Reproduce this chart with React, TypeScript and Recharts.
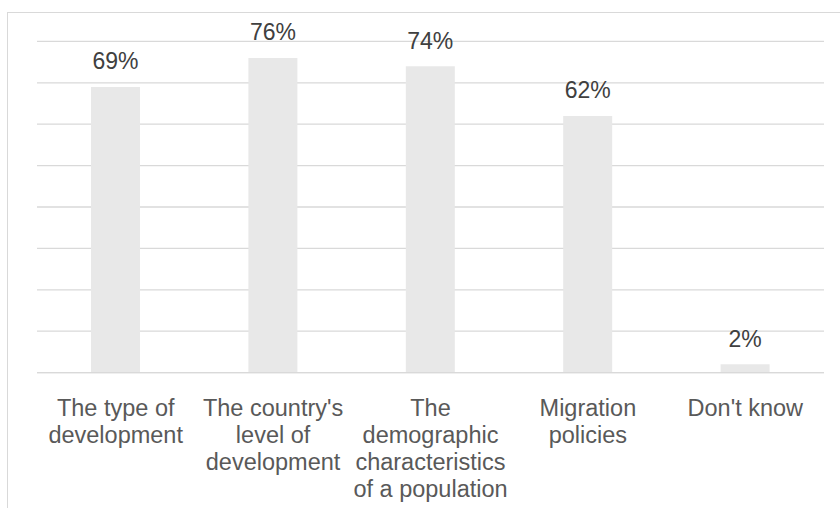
import React from "react";
import { BarChart, Bar, XAxis, YAxis, CartesianGrid, LabelList } from "recharts";

const categories = [
  "The type of development",
  "The country's level of development",
  "The demographic characteristics of a population",
  "Migration policies",
  "Don't know",
];
const shares = [69, 76, 74, 62, 2];
const tickLines = [
  ["The type of", "development"],
  ["The country's", "level of", "development"],
  ["The", "demographic", "characteristics", "of a population"],
  ["Migration", "policies"],
  ["Don't know"],
];
const yTicks = [0, 10, 20, 30, 40, 50, 60, 70, 80];

const data = categories.map((name, i) => ({ name, value: shares[i] }));

const FONT = "'Liberation Sans', Arial, sans-serif";

const CategoryTick = (props: any) => {
  const { x, y, index } = props;
  const lines = tickLines[index] || [];
  return (
    <text x={x} y={y} textAnchor="middle" fill="#595959" fontSize={23.5} fontFamily={FONT}>
      {lines.map((line, i) => (
        <tspan key={i} x={x} y={y + 35 + i * 27}>
          {line}
        </tspan>
      ))}
    </text>
  );
};

export default function App() {
  return (
    <div style={{ position: "absolute", left: 0, top: 0, width: 840, height: 508, overflow: "hidden", background: "#fff" }}>
      <div
        style={{
          position: "absolute",
          left: 7,
          top: 12,
          width: 900,
          height: 600,
          border: "1px solid #d9d9d9",
          boxSizing: "border-box",
        }}
      />
      <div style={{ position: "absolute", left: 0, top: 0 }}>
        <BarChart
          width={840}
          height={508}
          data={data}
          margin={{ top: 41.4, right: 16, bottom: 0.4, left: 37 }}
          barSize={49}
        >
          <CartesianGrid vertical={false} stroke="#d9d9d9" strokeWidth={1.3} />
          <XAxis
            dataKey="name"
            axisLine={{ stroke: "#d9d9d9", strokeWidth: 1.3 }}
            tickLine={false}
            height={135}
            interval={0}
            tick={<CategoryTick />}
          />
          <YAxis hide domain={[0, 80]} ticks={yTicks} />
          <Bar dataKey="value" fill="#e8e8e8" isAnimationActive={false}>
            <LabelList
              dataKey="value"
              position="top"
              offset={17.5}
              formatter={(v: any) => `${v}%`}
              fill="#404040"
              fontSize={23}
              fontFamily={FONT}
            />
          </Bar>
        </BarChart>
      </div>
    </div>
  );
}
